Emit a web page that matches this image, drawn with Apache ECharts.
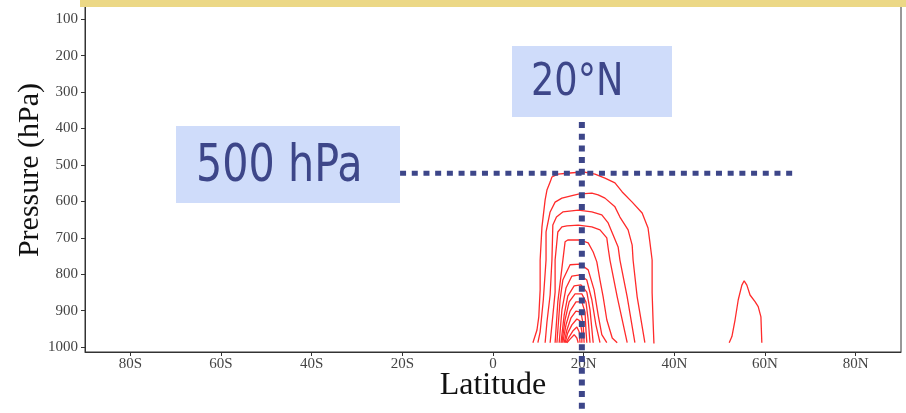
<!DOCTYPE html>
<html>
<head>
<meta charset="utf-8">
<script src="https://cdn.jsdelivr.net/npm/echarts@6/dist/echarts.min.js"></script>
<style>
  html, body { margin: 0; padding: 0; background: #ffffff; }
  #chart { width: 906px; height: 413px; }
</style>
</head>
<body>
<div id="chart"></div>
<script>
// Axis ticks and their labels
const latTicks = [-80, -60, -40, -20, 0, 20, 40, 60, 80];
const latLabels = ['80S', '60S', '40S', '20S', '0', '20N', '40N', '60N', '80N'];
const pressureTicks = [100, 200, 300, 400, 500, 600, 700, 800, 900, 1000];

// Contours, as [latitude, pressure (hPa)] pairs, outermost first
const contour1 = [[8.8, 988], [9.7, 953], [10.1, 917], [10.4, 843], [10.4, 761], [10.8, 670], [11.5, 596], [11.9, 569], [12.6, 547], [13.0, 533], [14.3, 525], [17.0, 522], [19.9, 519], [22.5, 525], [24.7, 536], [26.9, 549], [28.5, 574], [30.7, 602], [32.9, 632], [34.2, 673], [34.6, 711], [35.1, 761], [35.1, 851], [35.3, 925], [35.5, 990]];
const contour2 = [[9.9, 988], [10.4, 958], [11.1, 870], [11.7, 761], [11.7, 684], [12.6, 629], [13.7, 602], [15.2, 591], [18.8, 580], [21.8, 577], [23.2, 582], [24.7, 591], [26.9, 615], [28.0, 643], [29.8, 678], [30.7, 720], [30.9, 761], [31.8, 862], [33.5, 988]];
const contour3 = [[11.5, 988], [11.9, 931], [12.6, 857], [13.0, 761], [13.2, 665], [14.0, 643], [15.4, 629], [18.8, 624], [21.8, 629], [24.0, 637], [25.4, 659], [26.5, 692], [27.6, 725], [28.0, 761], [29.6, 862], [31.3, 988]];
const contour4 = [[12.6, 988], [13.0, 939], [13.7, 849], [13.7, 761], [14.3, 684], [15.2, 670], [16.3, 667], [18.8, 665], [21.8, 670], [23.6, 678], [25.1, 700], [25.4, 728], [25.8, 761], [27.4, 862], [29.6, 988]];
const contour5 = [[13.7, 988], [14.3, 876], [15.2, 783], [15.9, 711], [16.5, 706], [17.6, 706], [19.2, 706], [21.0, 714], [22.1, 739], [22.9, 766], [23.6, 816], [24.3, 862], [25.1, 925], [26.3, 975], [27.4, 988]];
const contour6 = [[14.1, 988], [14.8, 870], [15.4, 816], [17.0, 774], [19.2, 772], [21.0, 788], [22.3, 843], [23.2, 912], [24.0, 966], [25.1, 988]];
const contour7 = [[14.6, 988], [15.2, 898], [16.1, 838], [17.4, 805], [19.2, 802], [20.7, 816], [21.8, 870], [22.7, 939], [23.6, 988]];
const contour8 = [[15.0, 988], [15.7, 912], [16.5, 860], [17.9, 832], [19.4, 829], [20.7, 849], [21.4, 898], [22.1, 988]];
const contour9 = [[15.2, 988], [15.9, 925], [16.8, 876], [18.1, 854], [19.6, 854], [20.5, 876], [21.0, 925], [21.4, 988]];
const contour10 = [[15.4, 988], [16.1, 939], [17.0, 901], [18.3, 876], [19.6, 876], [20.3, 904], [20.5, 953], [20.7, 988]];
const contour11 = [[15.7, 988], [16.3, 953], [17.2, 920], [18.3, 901], [19.4, 904], [19.9, 939], [20.1, 988]];
const contour12 = [[15.9, 988], [16.5, 961], [17.4, 939], [18.5, 923], [19.2, 928], [19.6, 958], [19.6, 988]];
const contour13 = [[16.1, 988], [16.8, 972], [17.6, 956], [18.5, 945], [19.0, 958], [19.2, 988]];
const contour14 = [[16.3, 988], [17.0, 978], [17.9, 966], [18.5, 975], [18.8, 988]];
const contourNorth = [[52.1, 988], [52.7, 971], [53.4, 925], [54.1, 870], [54.9, 830], [55.4, 818], [56.0, 830], [56.7, 857], [57.8, 875], [58.5, 889], [59.1, 917], [59.3, 988]];

const contours = [contour1, contour2, contour3, contour4, contour5, contour6, contour7,
  contour8, contour9, contour10, contour11, contour12, contour13, contour14, contourNorth];

// Reference guides: 500 hPa level and 20°N meridian
const levelGuide = [[-20.5, 523], [67.1, 523]];
const meridianGuide = [[19.6, 382], [19.6, 1181]];

const guideColor = '#3d4689';
const boxColor = '#cfdcfa';

const series = contours.map(function (pts) {
  return {
    type: 'line',
    data: pts,
    symbol: 'none',
    silent: true,
    z: 2,
    lineStyle: { color: '#ff2b2b', width: 1.3 }
  };
});

series.push({
  type: 'line', data: levelGuide, symbol: 'none', silent: true, clip: false, z: 5,
  lineStyle: { color: guideColor, width: 5, type: [6, 5.7], cap: 'butt' }
});
series.push({
  type: 'line', data: meridianGuide, symbol: 'none', silent: true, clip: false, z: 5,
  lineStyle: { color: guideColor, width: 6, type: [6, 5.7], cap: 'butt' }
});

const chart = echarts.init(document.getElementById('chart'), null, { renderer: 'canvas' });

chart.setOption({
  animation: false,
  backgroundColor: '#ffffff',
  grid: {
    left: 85, right: 5, top: 4, bottom: 61,
    show: true, borderColor: '#333333', borderWidth: 1, backgroundColor: 'transparent'
  },
  xAxis: {
    type: 'value',
    min: -90, max: 90,
    axisLine: { show: true, onZero: false, lineStyle: { color: '#333333', width: 1 } },
    axisTick: { show: true, inside: false, length: 4, customValues: latTicks, lineStyle: { color: '#333333' } },
    axisLabel: {
      customValues: latTicks,
      margin: 5,
      fontFamily: 'Liberation Serif', fontSize: 15, color: '#444444',
      formatter: function (v) { return latLabels[latTicks.indexOf(v)]; }
    },
    splitLine: { show: false }
  },
  yAxis: {
    type: 'value',
    inverse: true,
    min: 58, max: 1013.5,
    axisLine: { show: true, onZero: false, lineStyle: { color: '#333333', width: 1 } },
    axisTick: { show: true, inside: false, length: 4, customValues: pressureTicks, lineStyle: { color: '#333333' } },
    axisLabel: {
      customValues: pressureTicks,
      margin: 7,
      fontFamily: 'Liberation Serif', fontSize: 15, color: '#444444',
      formatter: function (v) { return String(v); }
    },
    splitLine: { show: false }
  },
  series: series,
  graphic: [
    { type: 'rect', z: 100, shape: { x: 80, y: 0, width: 826, height: 7 }, style: { fill: '#ecd886' } },
    {
      type: 'text', z: 100, x: 30, y: 170, rotation: Math.PI / 2,
      style: { text: 'Pressure (hPa)', font: '30px "Liberation Serif"', fill: '#111111', textAlign: 'center', textVerticalAlign: 'middle' }
    },
    {
      type: 'text', z: 100, x: 493, y: 386,
      style: { text: 'Latitude', font: '32px "Liberation Serif"', fill: '#111111', textAlign: 'center', textVerticalAlign: 'middle' }
    },
    { type: 'rect', z: 100, shape: { x: 512, y: 46, width: 160, height: 71 }, style: { fill: boxColor } },
    {
      type: 'text', z: 101, x: 531, y: 83, scaleX: 0.815,
      style: { text: '20°N', font: '45px "DejaVu Sans"', fill: guideColor, textAlign: 'left', textVerticalAlign: 'middle' }
    },
    { type: 'rect', z: 100, shape: { x: 176, y: 126, width: 224, height: 77 }, style: { fill: boxColor } },
    {
      type: 'text', z: 101, x: 196, y: 167.5, scaleX: 0.81,
      style: { text: '500 hPa', font: '51px "DejaVu Sans"', fill: guideColor, textAlign: 'left', textVerticalAlign: 'middle' }
    }
  ]
});
</script>
</body>
</html>
